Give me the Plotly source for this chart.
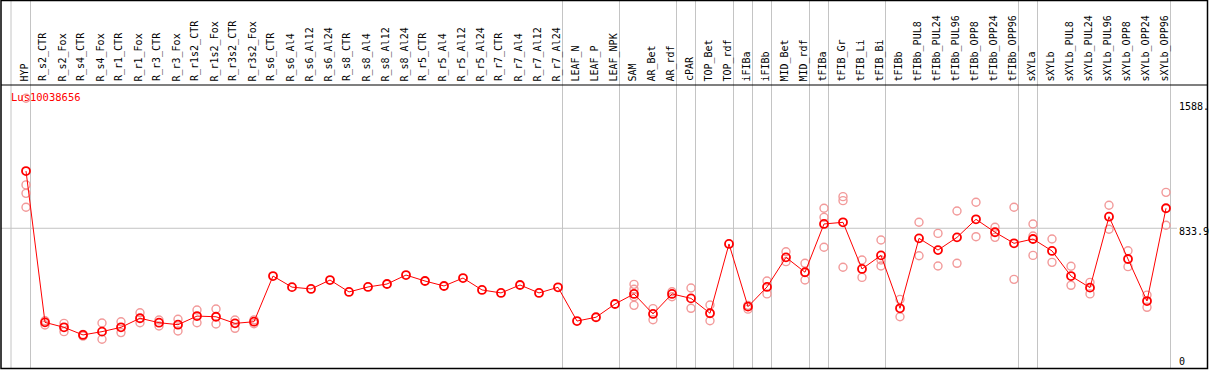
import plotly.graph_objects as go

categories = ["HYP", "R_s2_CTR", "R_s2_Fox", "R_s4_CTR", "R_s4_Fox", "R_r1_CTR", "R_r1_Fox",
              "R_r3_CTR", "R_r3_Fox", "R_r1s2_CTR", "R_r1s2_Fox", "R_r3s2_CTR", "R_r3s2_Fox",
              "R_s6_CTR", "R_s6_Al4", "R_s6_Al12", "R_s6_Al24", "R_s8_CTR", "R_s8_Al4",
              "R_s8_Al12", "R_s8_Al24", "R_r5_CTR", "R_r5_Al4", "R_r5_Al12", "R_r5_Al24",
              "R_r7_CTR", "R_r7_Al4", "R_r7_Al12", "R_r7_Al24", "LEAF_N", "LEAF_P", "LEAF_NPK",
              "SAM", "AR_Bet", "AR_rdf", "cPAR", "TOP_Bet", "TOP_rdf", "iFIBa", "iFIBb",
              "MID_Bet", "MID_rdf", "tFIBa", "tFIB_Gr", "tFIB_Li", "tFIB_Bi", "tFIBb",
              "tFIBb_PUL8", "tFIBb_PUL24", "tFIBb_PUL96", "tFIBb_OPP8", "tFIBb_OPP24",
              "tFIBb_OPP96", "sXYLa", "sXYLb", "sXYLb_PUL8", "sXYLb_PUL24", "sXYLb_PUL96",
              "sXYLb_OPP8", "sXYLb_OPP24", "sXYLb_OPP96"]

mean_values = [1180, 265, 235, 189, 209, 235, 290, 263, 251, 303, 299, 259, 269,
               545, 478, 467, 521, 449, 479, 497, 551, 515, 485, 533, 461,
               443, 491, 443, 477, 273, 296, 376, 437, 316, 437, 410, 320, 739, 360, 479,
               658, 568, 860, 870, 588, 670, 350, 773, 702, 779, 888, 810, 743,
               769, 697, 545, 475, 904, 648, 394, 955]

rep_categories = (["HYP"] * 4 + ["R_s2_CTR"] * 2 + ["R_s2_Fox"] * 2 + ["R_s4_CTR"] * 2 +
                  ["R_s4_Fox"] * 2 + ["R_r1_CTR"] * 2 + ["R_r1_Fox"] * 2 + ["R_r3_CTR"] * 2 +
                  ["R_r3_Fox"] * 2 + ["R_r1s2_CTR"] * 2 + ["R_r1s2_Fox"] * 2 +
                  ["R_r3s2_CTR"] * 2 + ["R_r3s2_Fox"] * 2 + ["SAM"] * 4 + ["AR_Bet"] * 2 +
                  ["AR_rdf"] * 2 + ["cPAR"] * 2 + ["TOP_Bet"] * 2 + ["iFIBa"] * 2 +
                  ["iFIBb"] * 2 + ["MID_Bet"] * 2 + ["MID_rdf"] * 2 + ["tFIBa"] * 3 +
                  ["tFIB_Gr"] * 3 + ["tFIB_Li"] * 2 + ["tFIB_Bi"] * 3 + ["tFIBb"] * 2 +
                  ["tFIBb_PUL8"] * 2 + ["tFIBb_PUL24"] * 2 + ["tFIBb_PUL96"] * 2 +
                  ["tFIBb_OPP8"] * 2 + ["tFIBb_OPP24"] * 2 + ["tFIBb_OPP96"] * 2 +
                  ["sXYLa"] * 3 + ["sXYLb"] * 2 + ["sXYLb_PUL8"] * 2 + ["sXYLb_PUL24"] * 2 +
                  ["sXYLb_PUL96"] * 2 + ["sXYLb_OPP8"] * 2 + ["sXYLb_OPP24"] * 2 +
                  ["sXYLb_OPP96"] * 2)

rep_values = [1620, 1096, 1045, 961, 275, 249, 259, 209, 192, 182, 261, 163, 269, 203,
              323, 263, 279, 243, 284, 213, 340, 263, 346, 255, 279, 229, 280, 257,
              495, 465, 420, 368, 348, 281, 450, 420, 473, 350, 370, 275, 368, 345,
              515, 437, 692, 632, 622, 521, 955, 900, 719, 1025, 1001, 598, 642, 537,
              763, 606, 642, 404, 299, 870, 668, 803, 606, 938, 622, 991, 783, 840, 779,
              961, 525, 860, 787, 670, 769, 628, 604, 489, 507, 437, 973, 828, 698, 602,
              430, 356, 1051, 852]

group_ends = ["HYP", "R_r7_Al24", "LEAF_NPK", "AR_rdf", "cPAR", "TOP_rdf", "iFIBa", "iFIBb",
              "MID_rdf", "tFIBa", "tFIB_Bi", "tFIBb_OPP96", "sXYLa", "sXYLb_OPP96"]

axis_labels = ["1588.", "833.9", "0"]
axis_label_values = [1588, 833.9, 0]
gridline_value = 833.9
gene_name = "Lus10038656"

W, H = 1209, 370
FONT = "DejaVu Sans Mono"
idx = {c: i for i, c in enumerate(categories)}


def px_x(p):
    return p / W


def px_y(p):
    return 1 - p / H


fig = go.Figure()

fig.add_trace(go.Scatter(
    x=[idx[c] for c in rep_categories], y=rep_values, mode="markers",
    marker=dict(symbol="circle-open", size=8, color="#f29a9a", line=dict(width=1.4)),
    hoverinfo="skip", showlegend=False))

fig.add_trace(go.Scatter(
    x=[idx[c] for c in categories], y=mean_values, mode="lines+markers",
    line=dict(color="#ff0000", width=1),
    marker=dict(symbol="circle-open", size=8, color="#ff0000", line=dict(width=1.8)),
    showlegend=False))

shapes = []
line_gray = dict(color="#c4c4c4", width=1)
# left boundary line
shapes.append(dict(type="line", xref="x", yref="paper", x0=-15 / 19, x1=-15 / 19,
                   y0=px_y(0), y1=px_y(368), line=line_gray, layer="below"))
for c in group_ends:
    xv = idx[c] + 4.5 / 19
    shapes.append(dict(type="line", xref="x", yref="paper", x0=xv, x1=xv,
                       y0=px_y(0), y1=px_y(368), line=line_gray, layer="below"))
shapes.append(dict(type="line", xref="paper", yref="y", x0=px_x(1), x1=px_x(1177),
                   y0=gridline_value, y1=gridline_value, line=line_gray, layer="below"))
# frame and header separator
black = dict(color="#000000", width=1.5)
shapes.append(dict(type="rect", xref="paper", yref="paper", x0=px_x(1), x1=px_x(1207.5),
                   y0=px_y(368.5), y1=px_y(0.5), line=black, fillcolor="rgba(0,0,0,0)"))
shapes.append(dict(type="line", xref="paper", yref="paper", x0=px_x(1), x1=px_x(1207.5),
                   y0=px_y(85), y1=px_y(85), line=dict(color="#000000", width=1.2)))

annotations = []
for c in categories:
    annotations.append(dict(x=idx[c], xref="x", y=px_y(83.5), yref="paper", text=c,
                            textangle=-90, showarrow=False, xanchor="center",
                            yanchor="bottom", xshift=-2,
                            font=dict(family=FONT, size=10, color="#000000")))
for lab, v in zip(axis_labels, axis_label_values):
    shift = -3 if v > 0 else 5
    annotations.append(dict(x=px_x(1177), xref="paper", y=v, yref="y", text=lab,
                            showarrow=False, xanchor="left", yanchor="middle", yshift=shift,
                            font=dict(family=FONT, size=10, color="#000000")))
annotations.append(dict(x=px_x(9), xref="paper", y=px_y(97.5), yref="paper", text=gene_name,
                        showarrow=False, xanchor="left", yanchor="middle",
                        font=dict(family=FONT, size=10.5, color="#ff0000")))

fig.update_layout(
    width=W, height=H,
    margin=dict(l=0, r=0, t=0, b=0, pad=0),
    paper_bgcolor="#ffffff", plot_bgcolor="#ffffff",
    xaxis=dict(range=[-26 / 19, (W - 26) / 19], showgrid=False, zeroline=False,
               showticklabels=False, ticks="", fixedrange=True),
    yaxis=dict(range=[(366.2 - H) / 0.1654, 366.2 / 0.1654], showgrid=False,
               zeroline=False, showticklabels=False, ticks="", fixedrange=True),
    shapes=shapes, annotations=annotations, showlegend=False,
)

fig.write_html(
    "out.html",
    config={"displayModeBar": False},
    post_script="document.body.style.margin='0';document.body.style.overflow='hidden';",
)
